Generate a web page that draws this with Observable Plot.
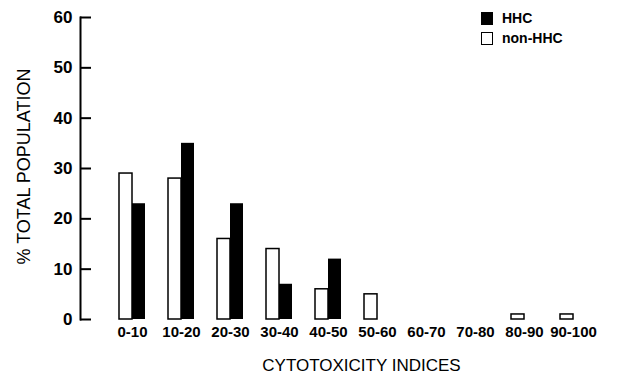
<!DOCTYPE html>
<html><head><meta charset="utf-8">
<script src="https://cdn.jsdelivr.net/npm/d3@7"></script>
<script src="https://cdn.jsdelivr.net/npm/@observablehq/plot@0.6"></script>
<style>
body{margin:0;background:#fff;}
#wrap{position:relative;width:617px;height:375px;font-family:"Liberation Sans",Arial,sans-serif;}
.legend{position:absolute;left:481px;top:8px;font-weight:bold;font-size:14px;line-height:20px;color:#000;}
.legend .row{display:flex;align-items:center;height:20px;}
.legend .sw{width:12px;height:13px;box-sizing:border-box;margin-right:9px;}
</style></head><body><div id="wrap"></div>
<script>
const categories = ["0-10","10-20","20-30","30-40","40-50","50-60","60-70","70-80","80-90","90-100"];
const nonHHC = [29,28,16,14,6,5,0,0,1,1];
const HHC = [23,35,23,7,12,0,0,0,0,0];
const yTicks = [0,10,20,30,40,50,60];
const seriesNames = ["HHC","non-HHC"];
const seriesFill = ["#000","#fff"];
const xTitle = "CYTOTOXICITY INDICES";
const yTitle = "% TOTAL POPULATION";

const rows = categories.map((c,i)=>({cat:c, nonHHC:nonHHC[i], HHC:HHC[i]}));
const chart = Plot.plot({
  width:617, height:375, marginLeft:80, marginRight:17, marginTop:17, marginBottom:56,
  style:{fontFamily:"Liberation Sans, Arial, sans-serif", background:"#fff", color:"#000", overflow:"visible"},
  x:{domain:categories, range:[115,589], paddingInner:0.478, paddingOuter:0},
  y:{domain:[0,60]},
  marks:[
    Plot.barY(rows.filter(d=>d.nonHHC>0), {x:"cat", y:"nonHHC", fill:"#fff", stroke:"#000", strokeWidth:1.5, insetRight:13}),
    Plot.barY(rows.filter(d=>d.HHC>0), {x:"cat", y:"HHC", fill:"#000", insetLeft:13}),
    Plot.frame({anchor:"left", strokeWidth:2}),
    Plot.axisY({ticks:yTicks, tickSize:-11, tickPadding:19, fontSize:17, fontWeight:"bold", label:null, strokeWidth:2}),
    Plot.axisX({tickSize:0, tickPadding:7, fontSize:15, fontWeight:"bold", label:null}),
    Plot.text([xTitle], {frameAnchor:"bottom", dx:21, dy:46, fontSize:17, lineAnchor:"middle"}),
    Plot.text([yTitle], {frameAnchor:"left", rotate:-90, dx:-56, dy:-2, fontSize:18, lineAnchor:"middle", textAnchor:"middle"})
  ]
});
const wrap = document.getElementById("wrap");
wrap.appendChild(chart);
const leg = document.createElement("div");
leg.className = "legend";
seriesNames.forEach((n,i)=>{
  const r = document.createElement("div"); r.className="row";
  const s = document.createElement("div"); s.className="sw";
  s.style.background = seriesFill[i]; s.style.border = "1.5px solid #000";
  const t = document.createElement("span"); t.textContent = n;
  r.appendChild(s); r.appendChild(t); leg.appendChild(r);
});
wrap.appendChild(leg);
</script></body></html>
